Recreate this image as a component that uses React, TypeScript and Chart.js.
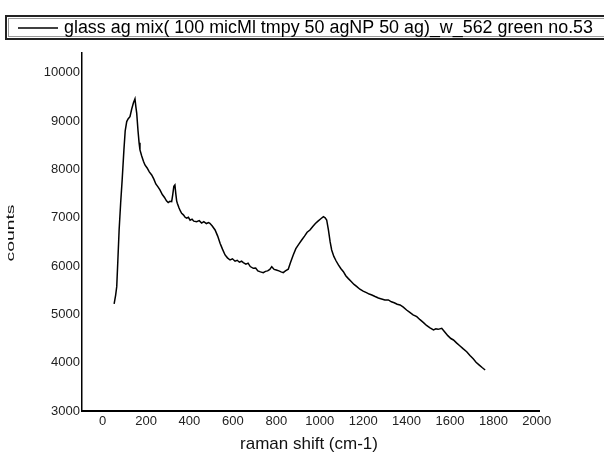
import React, { useEffect, useRef } from "react";
import { Chart, registerables } from "chart.js";

Chart.register(...registerables);

const legendLabel = "glass ag mix( 100 micMl tmpy 50 agNP 50 ag)_w_562 green no.53";
const xTitle = "raman shift (cm-1)";
const yTitle = "counts";

const xTickValues = [0, 200, 400, 600, 800, 1000, 1200, 1400, 1600, 1800, 2000];
const yTickValues = [3000, 4000, 5000, 6000, 7000, 8000, 9000, 10000];

const ramanShift = [
  53, 60, 65, 70, 76, 83, 90, 98, 104, 111, 118, 126, 134, 142, 149, 153, 157, 163, 168, 172,
  180, 188, 195, 205, 215, 226, 236, 245, 255, 264, 275, 285, 294, 302, 310, 318, 323, 328, 333, 337,
  341, 344, 352, 358, 364, 372, 380, 387, 395, 403, 412, 420, 433, 445, 456, 466, 478, 488, 494, 505,
  518, 530, 541, 552, 564, 575, 587, 598, 610, 620, 630, 640, 648, 660, 670, 680, 694, 705, 715, 727,
  740, 750, 760, 770, 779, 790, 800, 812, 822, 832, 842, 855, 865, 878, 890, 903, 917, 930, 942, 955,
  968, 980, 992, 1005, 1017, 1025, 1032, 1040, 1048, 1055, 1065, 1075, 1086, 1097, 1109, 1120, 1132, 1145, 1158, 1171,
  1185, 1200, 1215, 1228, 1240, 1255, 1270, 1285, 1300, 1316, 1330, 1343, 1357, 1370, 1385, 1400, 1415, 1430, 1447, 1462,
  1478, 1492, 1508, 1524, 1535, 1545, 1562, 1575, 1590, 1604, 1616, 1630, 1645, 1660, 1677, 1692, 1707, 1720, 1735, 1748,
  1762,
];

const counts = [
  5215, 5400, 5574, 6100, 6747, 7300, 7783, 8400, 8800, 8990, 9050, 9093, 9250, 9380, 9460, 9300, 9164, 8800, 8550, 8404,
  8280, 8170, 8093, 8030, 7950, 7886, 7800, 7700, 7640, 7576, 7480, 7420, 7350, 7313, 7340, 7333, 7480, 7650, 7679, 7500,
  7350, 7300, 7200, 7140, 7093, 7060, 7010, 6990, 7010, 6950, 6970, 6930, 6919, 6940, 6890, 6920, 6880, 6900, 6886, 6830,
  6747, 6620, 6472, 6350, 6230, 6170, 6126, 6150, 6100, 6120, 6080, 6100, 6070, 6040, 6060, 5990, 5954, 5960, 5900, 5880,
  5863, 5890, 5900, 5930, 5988, 5930, 5920, 5900, 5880, 5863, 5900, 5934, 6070, 6230, 6360, 6450, 6540, 6620, 6700, 6747,
  6820, 6880, 6930, 6980, 7023, 7000, 6954, 6750, 6500, 6333, 6200, 6110, 6023, 5950, 5884, 5800, 5740, 5680, 5620, 5573,
  5520, 5480, 5450, 5420, 5402, 5370, 5340, 5320, 5300, 5298, 5260, 5240, 5210, 5195, 5150, 5090, 5040, 4990, 4952, 4890,
  4830, 4770, 4720, 4677, 4700, 4690, 4712, 4640, 4560, 4500, 4470, 4410, 4350, 4290, 4228, 4150, 4080, 4010, 3950, 3900,
  3849,
];

const FONT = "'Liberation Sans', Arial, sans-serif";

const decorPlugin = {
  id: "decor",
  afterDraw(chart: any) {
    const ctx = chart.ctx as CanvasRenderingContext2D;
    ctx.save();
    // legend box (right side runs off the canvas, as in the reference)
    ctx.strokeStyle = "#222";
    ctx.lineWidth = 2;
    ctx.strokeRect(6, 16, 620, 23);
    ctx.strokeStyle = "#999";
    ctx.lineWidth = 1;
    ctx.strokeRect(8.5, 18.5, 620, 18);
    // legend line sample
    ctx.strokeStyle = "#000";
    ctx.lineWidth = 1.5;
    ctx.beginPath();
    ctx.moveTo(18, 28);
    ctx.lineTo(58, 28);
    ctx.stroke();
    // legend text, fitted to width
    ctx.fillStyle = "#000";
    ctx.font = `18px ${FONT}`;
    ctx.textBaseline = "middle";
    ctx.textAlign = "left";
    const w = ctx.measureText(legendLabel).width;
    const target = 529;
    ctx.save();
    ctx.translate(64, 28);
    ctx.scale(target / w, 1);
    ctx.fillText(legendLabel, 0, 0);
    ctx.restore();
    // x title
    ctx.font = `17px ${FONT}`;
    ctx.textAlign = "center";
    ctx.fillStyle = "#111";
    ctx.fillText(xTitle, 309, 444);
    // y title
    ctx.save();
    ctx.translate(11, 233);
    ctx.rotate(-Math.PI / 2);
    ctx.font = `11px ${FONT}`;
    const yw = ctx.measureText(yTitle).width;
    ctx.scale(57 / yw, 1);
    ctx.textAlign = "center";
    ctx.fillText(yTitle, 0, 0);
    ctx.restore();
    ctx.restore();
  },
};

export default function App() {
  const ref = useRef<HTMLCanvasElement | null>(null);
  useEffect(() => {
    document.body.style.margin = "0";
    const canvas = ref.current!;
    const chart = new Chart(canvas, {
      type: "line",
      data: {
        datasets: [
          {
            label: legendLabel,
            data: ramanShift.map((x, i) => ({ x, y: counts[i] })),
            borderColor: "#000",
            borderWidth: 1.5,
            pointRadius: 0,
            tension: 0,
            fill: false,
          },
        ],
      },
      options: {
        animation: false,
        responsive: false,
        devicePixelRatio: 1,
        layout: { padding: { top: 53, right: 65, left: 0, bottom: 0 } },
        plugins: { legend: { display: false }, tooltip: { enabled: false } },
        scales: {
          x: {
            type: "linear",
            min: -95,
            max: 2010,
            grid: { display: false, drawTicks: false },
            border: { display: true, color: "#000", width: 2 },
            afterBuildTicks: (s: any) => {
              s.ticks = xTickValues.map((v) => ({ value: v }));
            },
            afterFit: (s: any) => {
              s.height = 44;
            },
            ticks: {
              padding: 3,
              color: "#222",
              font: { family: FONT, size: 13 },
              autoSkip: false,
              maxRotation: 0,
              callback: (v: any) => String(v),
            },
          },
          y: {
            type: "linear",
            min: 3000,
            max: 10410,
            grid: { display: false, drawTicks: false },
            border: { display: true, color: "#000", width: 1.5 },
            afterBuildTicks: (s: any) => {
              s.ticks = yTickValues.map((v) => ({ value: v }));
            },
            afterFit: (s: any) => {
              s.width = 82;
            },
            ticks: {
              padding: 2,
              color: "#222",
              font: { family: FONT, size: 13 },
              callback: (v: any) => String(v),
            },
          },
        },
      },
      plugins: [decorPlugin],
    });
    return () => chart.destroy();
  }, []);
  return (
    <div style={{ position: "absolute", left: 0, top: 0, width: 604, height: 455, background: "#fff" }}>
      <canvas ref={ref} width={604} height={455} style={{ width: 604, height: 455, display: "block" }} />
    </div>
  );
}
